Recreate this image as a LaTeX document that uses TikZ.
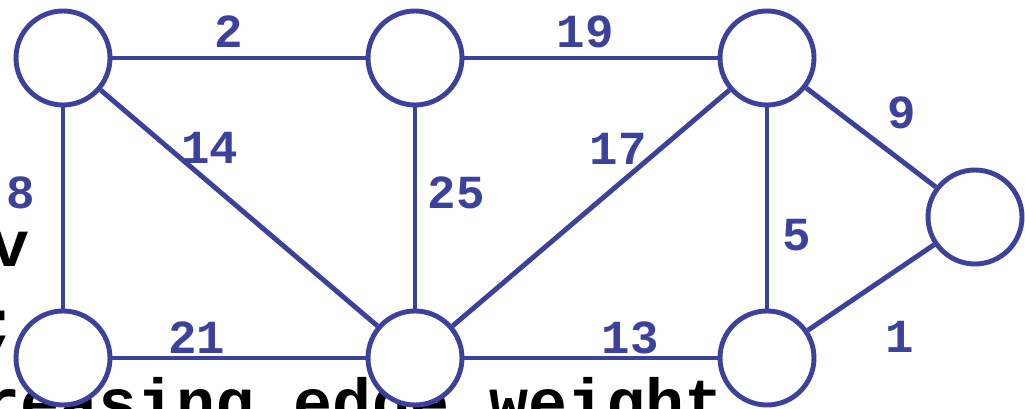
\documentclass[tikz,border=0pt]{standalone}
\usepackage{fontspec}
\newfontfamily\slidemono{Liberation Mono}
\usetikzlibrary{positioning}
\definecolor{graphblue}{RGB}{60,65,155}
\tikzset{
  vert/.style={circle, draw=graphblue, fill=white, line width=2.8pt, minimum size=1.88cm, inner sep=0pt},
  wedge/.style={graphblue, line width=2.8pt},
  wlab/.style={graphblue, inner sep=0pt, font=\slidemono\bfseries\fontsize{27}{27}\selectfont},
  slidetext/.style={black, inner sep=0pt, font=\slidemono\bfseries\fontsize{37}{44}\selectfont}
}

\begin{document}
\begin{tikzpicture}
    \useasboundingbox (0,0) rectangle (20.5,8.18);
    \clip (0,0) rectangle (20.5,8.18);
    % Slide text behind the graph (cut off at the edges)
    \node[slidetext, anchor=base west] (lineone) at (-0.2,2.84) {v};
    \node[slidetext, anchor=base west] (linetwo) at (-0.4,1.26) {;};
    \node[slidetext, anchor=base west] (linethree) at (-1.15,-0.32) {creasing edge weight};
    % Vertices
    \node[vert] (a) at (1.26,7.02) {};
    \node[vert] (b) at (8.30,7.02) {};
    \node[vert] (c) at (15.34,7.02) {};
    \node[vert] (d) at (19.50,3.84) {};
    \node[vert] (e) at (1.26,1.02) {};
    \node[vert] (f) at (8.30,1.02) {};
    \node[vert] (g) at (15.34,1.02) {};
    % Edges
    \draw[wedge] (a) -- (b);
    \draw[wedge] (b) -- (c);
    \draw[wedge] (a) -- (e);
    \draw[wedge] (a) -- (f);
    \draw[wedge] (b) -- (f);
    \draw[wedge] (f) -- (c);
    \draw[wedge] (c) -- (g);
    \draw[wedge] (c) -- (d);
    \draw[wedge] (e) -- (f);
    \draw[wedge] (f) -- (g);
    \draw[wedge] (g) -- (d);
    % Edge weights
    \node[wlab] (wab) at (4.57,7.54) {2};
    \node[wlab] (wbc) at (11.70,7.54) {19};
    \node[wlab] (wae) at (0.42,4.32) {8};
    \node[wlab] (waf) at (4.20,5.22) {14};
    \node[wlab] (wbf) at (9.12,4.32) {25};
    \node[wlab] (wfc) at (12.36,5.20) {17};
    \node[wlab] (wcg) at (15.94,3.48) {5};
    \node[wlab] (wcd) at (18.04,5.92) {9};
    \node[wlab] (wef) at (3.94,1.42) {21};
    \node[wlab] (wfg) at (12.60,1.42) {13};
    \node[wlab] (wgd) at (18.00,1.44) {1};
\end{tikzpicture}
\end{document}
